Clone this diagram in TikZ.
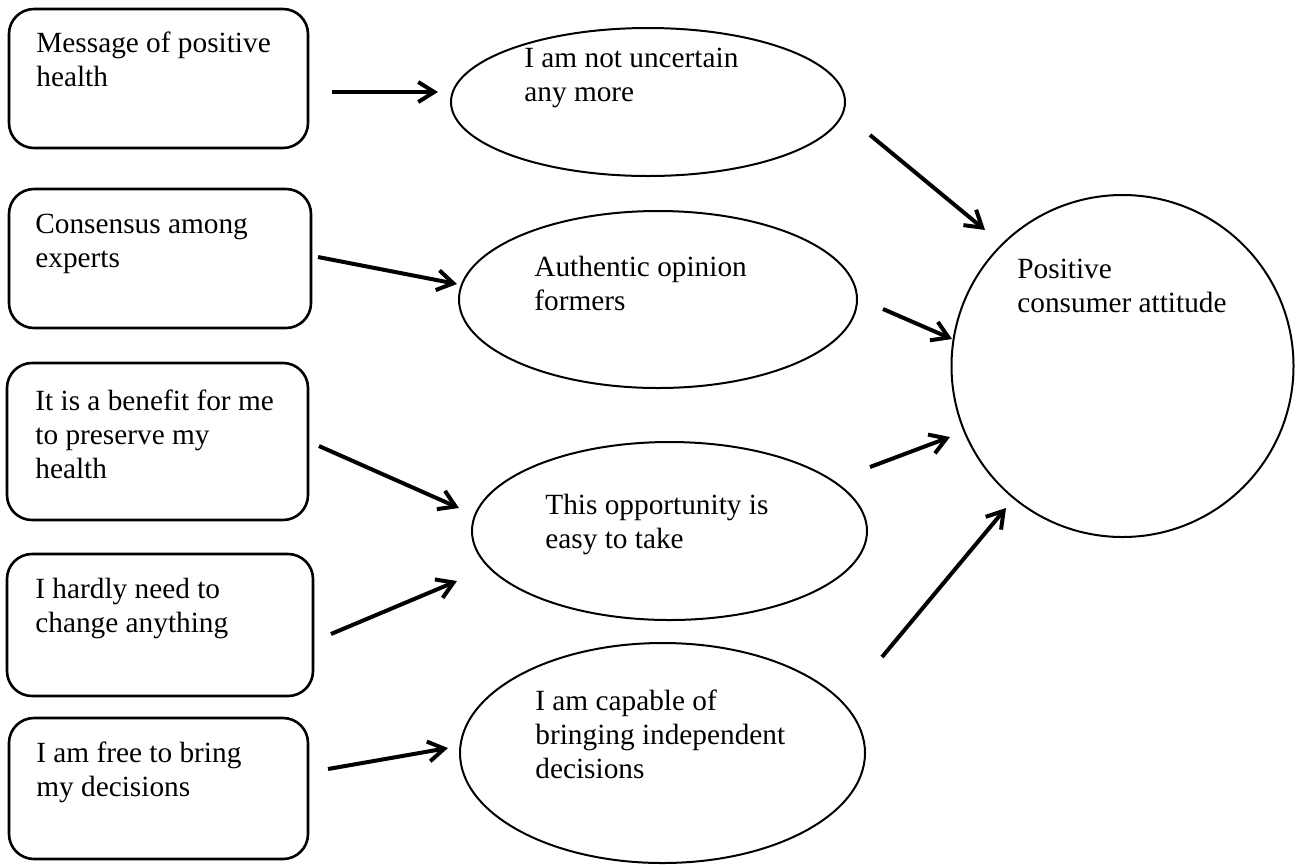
\documentclass[tikz,border=0pt]{standalone}
\usepackage{fontspec}
\setmainfont{Liberation Serif}
\usetikzlibrary{shapes.geometric,arrows.meta,calc}

\tikzset{
  card/.style={draw, line width=1.3pt, rounded corners=12.5pt, inner sep=0pt, outer sep=0pt},
  oval/.style={draw, ellipse, line width=1pt, inner sep=0pt, outer sep=0pt},
  round/.style={draw, circle, line width=1pt, inner sep=0pt, outer sep=0pt},
  words/.style={anchor=north west, inner sep=0pt, align=left,
    font=\fontsize{14.65}{17}\selectfont},
  link/.style={line width=2pt, -{Straight Barb[length=8pt,width=10pt,line width=2pt]}}
}

\begin{document}
\begin{tikzpicture}[x=0.5pt, y=-0.5pt]
\useasboundingbox (0,0) rectangle (1300,864);

% left column: statements
\node[card, minimum width=149.5pt, minimum height=69.5pt] (b1) at (158.5,78.5) {};
\node[card, minimum width=151pt,   minimum height=69.5pt] (b2) at (160,258.5) {};
\node[card, minimum width=150.5pt, minimum height=78.5pt] (b3) at (157.5,441.5) {};
\node[card, minimum width=153pt,   minimum height=71pt]   (b4) at (160,625) {};
\node[card, minimum width=149.5pt, minimum height=70.5pt] (b5) at (158.5,788.5) {};

\node[words] (b1t) at (36,28.2)  {\strut Message of positive\\health};
\node[words] (b2t) at (35,209.2) {\strut Consensus among\\experts};
\node[words] (b3t) at (35,386.2) {\strut It is a benefit for me\\to preserve my\\health};
\node[words] (b4t) at (35,574.2) {\strut I hardly need to\\change anything};
\node[words] (b5t) at (36,738.2) {\strut I am free to bring\\my decisions};

% middle column: beliefs
\node[oval, minimum width=197pt,   minimum height=74pt]   (e1) at (648,102) {};
\node[oval, minimum width=199pt,   minimum height=88.5pt] (e2) at (658,299.5) {};
\node[oval, minimum width=197.5pt, minimum height=89pt]   (e3) at (669.5,531) {};
\node[oval, minimum width=202.5pt, minimum height=110pt]  (e4) at (662.5,753) {};

\node[words] (e1t) at (524,43.2)  {\strut I am not uncertain\\any more};
\node[words] (e2t) at (534,252.2) {\strut Authentic opinion\\formers};
\node[words] (e3t) at (545,490.2) {\strut This opportunity is\\easy to take};
\node[words] (e4t) at (535,686.2) {\strut I am capable of\\bringing independent\\decisions};

% outcome
\node[round, minimum size=171pt] (c) at (1122.5,366) {};
\node[words] (ct) at (1017,254.2) {\strut Positive\\consumer attitude};

% statements -> beliefs
\draw[link] ([shift={(173.5,13.5)}]b1.center) -- ([shift={(-210,-10)}]e1.center);
\draw[link] ([shift={(158,-1.5)}]b2.center)   -- ([shift={(-201,-15.5)}]e2.center);
\draw[link] ([shift={(161.5,4.5)}]b3.center)  -- ([shift={(-210.5,-23)}]e3.center);
\draw[link] ([shift={(171,9)}]b4.center)      -- ([shift={(-212.5,50)}]e3.center);
\draw[link] ([shift={(169.5,-19.5)}]b5.center) -- ([shift={(-214.5,-5)}]e4.center);

% beliefs -> attitude
\draw[link] ([shift={(222,33)}]e1.center)    -- ([shift={(-137.5,-136)}]c.center);
\draw[link] ([shift={(225,9.5)}]e2.center)   -- ([shift={(-170.5,-27)}]c.center);
\draw[link] ([shift={(200.5,-64)}]e3.center) -- ([shift={(-172.5,71)}]c.center);
\draw[link] ([shift={(219.5,-96)}]e4.center) -- ([shift={(-116.5,142)}]c.center);
\end{tikzpicture}
\end{document}
